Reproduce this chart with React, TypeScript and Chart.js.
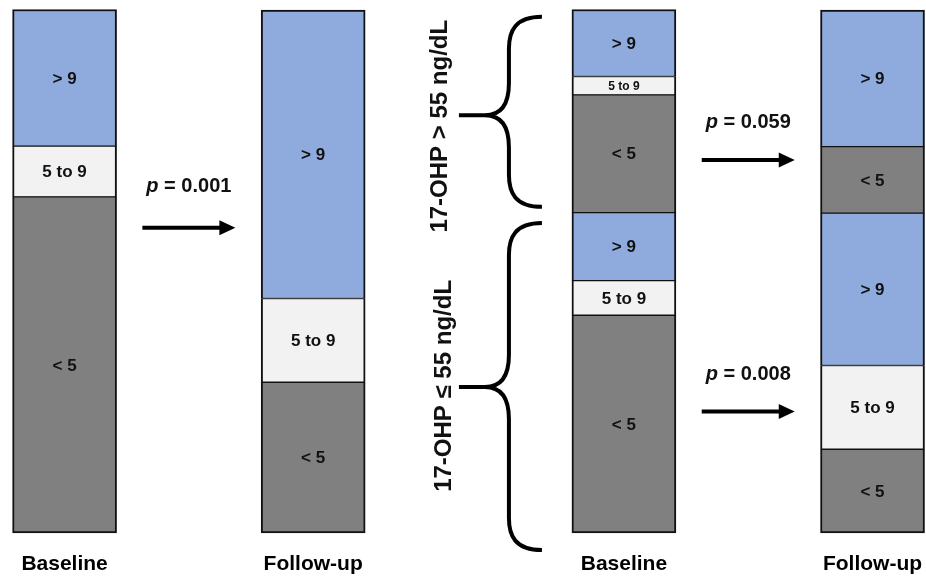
import React, { useEffect, useRef } from "react";
import { Chart, registerables } from "chart.js";

Chart.register(...registerables);

// ---- data ----
const categories = ["Baseline", "", "", "", "Follow-up", "", "", "", "", "Baseline", "", "", "", "Follow-up"];
const leftSlots = [0, 4];
const rightSlots = [9, 13];

// Whole cohort (percent of patients): baseline, follow-up
const allLt5 = [64.2, 28.8];
const all5to9 = [9.7, 16.0];
const allGt9 = [26.1, 55.1];

// 17-OHP <= 55 ng/dL subgroup: baseline, follow-up
const lowLt5 = [41.6, 16.0];
const low5to9 = [6.6, 16.0];
const lowGt9 = [13.0, 29.1];

// 17-OHP > 55 ng/dL subgroup: baseline, follow-up
const highLt5 = [22.5, 12.7];
const high5to9 = [3.5, null];
const highGt9 = [12.8, 26.1];

const pValues = ["0.001", "0.059", "0.008"];
const groupLabels = ["17-OHP > 55 ng/dL", "17-OHP \u2264 55 ng/dL"];

// ---- styles / annotation placement ----
const FONT = "'Liberation Sans', Arial, Helvetica, sans-serif";
const C_LT5 = "#808080";
const C_MID = "#F2F2F2";
const C_GT9 = "#8FAADC";

const arrows = [
  { slot: 2, y: 58.3, textY: 66.1, p: pValues[0] },
  { slot: 11, y: 71.25, textY: 78.5, p: pValues[1] },
  { slot: 11, y: 23.2, textY: 30.2, p: pValues[2] },
];
const braces = [
  { top: 98.6, tip: 79.8, bottom: 62.3, label: groupLabels[0], labelY: 77.7, labelDx: -177 },
  { top: 59.2, tip: 27.9, bottom: -3.25, label: groupLabels[1], labelY: 28.1, labelDx: -173 },
];

function place(slots: number[], vals: (number | null)[]) {
  const arr: (number | null)[] = Array(categories.length).fill(null);
  slots.forEach((s, i) => (arr[s] = vals[i]));
  return arr;
}

function ds(label: string, data: (number | null)[], color: string, pos: "bottom" | "mid" | "top") {
  return {
    label,
    data,
    backgroundColor: color,
    borderColor: "#111",
    borderWidth: { left: 2, right: 2, top: pos === "top" ? 2 : 1, bottom: pos === "bottom" ? 2 : 1 },
    borderSkipped: false,
    stack: "s",
    barThickness: 104,
    clip: false,
  };
}

const annotPlugin = {
  id: "annot",
  afterDatasetsDraw(chart: any) {
    const ctx: CanvasRenderingContext2D = chart.ctx;
    const xs = chart.scales.x;
    const ys = chart.scales.y;
    ctx.save();
    // segment labels
    ctx.textAlign = "center";
    ctx.textBaseline = "middle";
    ctx.fillStyle = "#111";
    chart.data.datasets.forEach((d: any, di: number) => {
      const meta = chart.getDatasetMeta(di);
      meta.data.forEach((el: any, i: number) => {
        const v = d.data[i];
        if (v == null || v === 0) return;
        const { x, y, base } = el.getProps(["x", "y", "base"], true);
        const h = Math.abs(base - y);
        const size = h < 24 ? 12 : 17;
        ctx.font = `bold ${size}px ${FONT}`;
        ctx.fillText(d.label, x, (y + base) / 2 + 1);
      });
    });

    // arrows + p values
    arrows.forEach((a) => {
      const cx = xs.getPixelForValue(a.slot);
      const y = ys.getPixelForValue(a.y);
      const x1 = cx - 46.5;
      const x2 = cx + 46.5;
      ctx.strokeStyle = "#000";
      ctx.fillStyle = "#000";
      ctx.lineWidth = 4;
      ctx.beginPath();
      ctx.moveTo(x1, y);
      ctx.lineTo(x2 - 14, y);
      ctx.stroke();
      ctx.beginPath();
      ctx.moveTo(x2, y);
      ctx.lineTo(x2 - 16, y - 7.5);
      ctx.lineTo(x2 - 16, y + 7.5);
      ctx.closePath();
      ctx.fill();

      const ty = ys.getPixelForValue(a.textY);
      const f1 = `italic bold 20px ${FONT}`;
      const f2 = `bold 20px ${FONT}`;
      const s1 = "p";
      const s2 = " = " + a.p;
      ctx.font = f1;
      const w1 = ctx.measureText(s1).width;
      ctx.font = f2;
      const w2 = ctx.measureText(s2).width;
      const start = cx - (w1 + w2) / 2;
      ctx.textAlign = "left";
      ctx.textBaseline = "middle";
      ctx.fillStyle = "#111";
      ctx.font = f1;
      ctx.fillText(s1, start, ty);
      ctx.font = f2;
      ctx.fillText(s2, start + w1, ty);
    });

    // braces + group labels
    const bx = xs.getPixelForValue(rightSlots[0]);
    braces.forEach((b) => {
      const xEnd = bx - 82;
      const xSp = bx - 115;
      const xTip = bx - 165;
      const yT = ys.getPixelForValue(b.top);
      const yM = ys.getPixelForValue(b.tip);
      const yB = ys.getPixelForValue(b.bottom);
      const r = 32;
      ctx.strokeStyle = "#000";
      ctx.lineWidth = 4;
      ctx.lineJoin = "round";
      ctx.lineCap = "butt";
      ctx.beginPath();
      ctx.moveTo(xEnd, yT);
      ctx.bezierCurveTo(xSp + 6, yT, xSp, yT + r * 0.45, xSp, yT + r);
      ctx.lineTo(xSp, yM - r);
      ctx.bezierCurveTo(xSp, yM - r * 0.35, xSp - 8, yM, xSp - 24, yM);
      ctx.lineTo(xTip, yM);
      ctx.moveTo(xSp - 24, yM);
      ctx.bezierCurveTo(xSp - 8, yM, xSp, yM + r * 0.35, xSp, yM + r);
      ctx.lineTo(xSp, yB - r);
      ctx.bezierCurveTo(xSp, yB - r * 0.45, xSp + 6, yB, xEnd, yB);
      ctx.stroke();

      ctx.save();
      ctx.translate(bx + b.labelDx, ys.getPixelForValue(b.labelY));
      ctx.rotate(-Math.PI / 2);
      ctx.textAlign = "center";
      ctx.textBaseline = "alphabetic";
      ctx.fillStyle = "#111";
      ctx.font = `bold 24px ${FONT}`;
      ctx.fillText(b.label, 0, 0);
      ctx.restore();
    });
    ctx.restore();
  },
};

export default function App() {
  const ref = useRef<HTMLCanvasElement>(null);
  useEffect(() => {
    const canvas = ref.current!;
    const datasets = [
      ds("< 5", place(leftSlots, allLt5), C_LT5, "bottom"),
      ds("5 to 9", place(leftSlots, all5to9), C_MID, "mid"),
      ds("> 9", place(leftSlots, allGt9), C_GT9, "top"),
      ds("< 5", place(rightSlots, lowLt5), C_LT5, "bottom"),
      ds("5 to 9", place(rightSlots, low5to9), C_MID, "mid"),
      ds("> 9", place(rightSlots, lowGt9), C_GT9, "mid"),
      ds("< 5", place(rightSlots, highLt5), C_LT5, "mid"),
      ds("5 to 9", place(rightSlots, high5to9), C_MID, "mid"),
      ds("> 9", place(rightSlots, highGt9), C_GT9, "top"),
    ];
    const chart = new Chart(canvas, {
      type: "bar",
      data: { labels: categories, datasets: datasets as any },
      options: {
        responsive: false,
        animation: false,
        devicePixelRatio: 1,
        layout: { padding: { left: 33.5, right: 22.4, top: 9.5, bottom: 0 } },
        plugins: { legend: { display: false }, tooltip: { enabled: false }, title: { display: false } },
        scales: {
          x: {
            stacked: true,
            grid: { display: false, drawTicks: false },
            border: { display: false },
            afterFit: (scale: any) => {
              scale.paddingLeft = 0;
              scale.paddingRight = 0;
              scale.height = 43;
            },
            ticks: {
              autoSkip: false,
              maxRotation: 0,
              minRotation: 0,
              padding: 19,
              color: "#000",
              font: { family: FONT, size: 21, weight: "bold" },
            },
          },
          y: { stacked: true, display: false, min: 0, max: 100 },
        },
      },
      plugins: [annotPlugin],
    });
    return () => chart.destroy();
  }, []);
  return (
    <div style={{ position: "fixed", left: 0, top: 0, width: 926, height: 576, background: "#fff" }}>
      <canvas ref={ref} width={926} height={576} style={{ display: "block" }} />
    </div>
  );
}
